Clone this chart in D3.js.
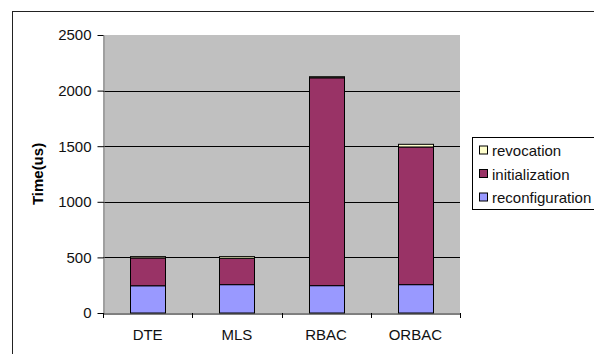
<!DOCTYPE html>
<html>
<head>
<meta charset="utf-8">
<script src="https://cdn.jsdelivr.net/npm/d3@7"></script>
<style>
  html, body { margin: 0; padding: 0; background: #fff; }
  svg { display: block; }
  text { font-family: Arial, "Liberation Sans", sans-serif; }
</style>
</head>
<body>
<svg id="chart" width="594" height="354"></svg>
<script>
// Stacked timing per access-control model
const categories = ["DTE", "MLS", "RBAC", "ORBAC"];
const reconfiguration = [245, 255, 246, 255];
const initialization = [250, 237, 1869, 1238];
const revocation = [12, 15, 10, 24];
const yTicks = [0, 500, 1000, 1500, 2000, 2500];
const seriesNames = ["reconfiguration", "initialization", "revocation"];
const seriesColors = { reconfiguration: "#9999ff", initialization: "#993366", revocation: "#ffffcc" };

const FONT = "Arial, 'Liberation Sans', sans-serif";
const svg = d3.select("#chart");
const plot = { left: 103, right: 460, top: 35, bottom: 313 };

// outer frame (runs off the right and bottom edges)
svg.append("rect")
  .attr("x", 12.5).attr("y", 11.5).attr("width", 600).attr("height", 360)
  .attr("fill", "none").attr("stroke", "#222").attr("stroke-width", 1);

const x = d3.scaleBand().domain(categories).range([plot.left, plot.right]).paddingInner(0).paddingOuter(0);
const y = d3.scaleLinear().domain([0, 2500]).range([plot.bottom, plot.top]);

// plot background
svg.append("rect")
  .attr("x", plot.left).attr("y", plot.top)
  .attr("width", plot.right - plot.left).attr("height", plot.bottom - plot.top)
  .attr("fill", "#c0c0c0");

// gridlines
svg.append("g").selectAll("line").data(yTicks.filter(t => t > 0 && t < 2500)).join("line")
  .attr("x1", plot.left).attr("x2", plot.right)
  .attr("y1", d => Math.round(y(d)) + 0.5).attr("y2", d => Math.round(y(d)) + 0.5)
  .attr("stroke", "#000").attr("stroke-width", 1);

// stacked bars
const rows = categories.map((c, i) => ({
  cat: c,
  reconfiguration: reconfiguration[i],
  initialization: initialization[i],
  revocation: revocation[i]
}));
const stack = d3.stack().keys(seriesNames)(rows);
const barW = 35;
svg.append("g").selectAll("g").data(stack).join("g")
  .attr("fill", d => seriesColors[d.key])
  .selectAll("rect").data(d => d).join("rect")
  .attr("x", d => Math.round(x(d.data.cat) + x.bandwidth() / 2 - barW / 2) + 0.5)
  .attr("y", d => y(d[1]))
  .attr("width", barW)
  .attr("height", d => y(d[0]) - y(d[1]))
  .attr("stroke", "#000").attr("stroke-width", 1);

// y axis
const yAxis = svg.append("g")
  .attr("transform", `translate(${plot.left + 0.5},0)`)
  .call(d3.axisLeft(y).tickValues(yTicks).tickFormat(d3.format("d"))
    .tickSize(6).tickPadding(6).tickSizeOuter(0));
yAxis.select(".domain").attr("stroke", "#808080");
yAxis.selectAll(".tick line").attr("stroke", "#000");
yAxis.selectAll("text").attr("font-size", 15).attr("fill", "#111").attr("font-family", FONT);

// x axis
const xAxis = svg.append("g")
  .attr("transform", `translate(0,${plot.bottom + 0.5})`)
  .call(d3.axisBottom(x).tickSize(0).tickPadding(16).tickSizeOuter(0));
xAxis.select(".domain").attr("stroke", "#000");
xAxis.selectAll("text").attr("font-size", 15).attr("fill", "#111").attr("font-family", FONT);
// category separators
svg.append("g").selectAll("line").data(d3.range(categories.length + 1)).join("line")
  .attr("x1", i => Math.round(plot.left + i * x.step()) + 0.5)
  .attr("x2", i => Math.round(plot.left + i * x.step()) + 0.5)
  .attr("y1", plot.bottom).attr("y2", plot.bottom + 5)
  .attr("stroke", "#000");

// y axis title
svg.append("text")
  .attr("transform", "translate(43,174) rotate(-90)")
  .attr("text-anchor", "middle")
  .attr("font-size", 15).attr("font-weight", "bold").attr("fill", "#000")
  .text("Time(us)");

// legend
const legend = svg.append("g");
legend.append("rect")
  .attr("x", 472.5).attr("y", 137.5).attr("width", 140).attr("height", 72)
  .attr("fill", "#fff").attr("stroke", "#000");
const legendItems = ["revocation", "initialization", "reconfiguration"];
const li = legend.selectAll("g.item").data(legendItems).join("g")
  .attr("transform", (d, i) => `translate(479,${150.5 + i * 23.5})`);
li.append("rect")
  .attr("x", 0.5).attr("y", -4.5).attr("width", 8).attr("height", 8)
  .attr("fill", d => seriesColors[d]).attr("stroke", "#000");
li.append("text")
  .attr("x", 13).attr("y", 5.5)
  .attr("font-size", 15).attr("fill", "#111")
  .text(d => d);
</script>
</body>
</html>
